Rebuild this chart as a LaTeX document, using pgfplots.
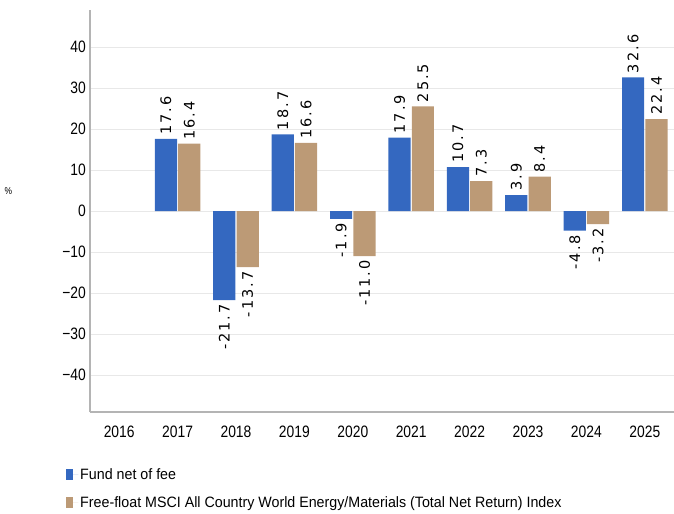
\documentclass[border=0pt]{standalone}
\usepackage{fontspec}
\usepackage{pgfplots}
\pgfplotsset{compat=1.18}
\newfontfamily\tickfont[FakeStretch=0.84]{Liberation Sans}
\newfontfamily\legfont[FakeStretch=0.95]{Liberation Sans}
\newfontfamily\labfont[LetterSpace=14]{DejaVu Sans}
\definecolor{fundblue}{HTML}{3468C0}
\definecolor{idxtan}{HTML}{BC9A76}
\definecolor{gridc}{HTML}{E8E8E8}
\definecolor{axisc}{HTML}{B4B4B4}
\begin{document}
\begin{tikzpicture}
\useasboundingbox (-90bp,-102bp) rectangle (584bp,412bp);
\begin{axis}[
  at={(0,0)}, anchor=south west,
  scale only axis, width=584bp, height=402bp,
  xmin=-0.5, xmax=9.5, ymin=-49, ymax=49,
  axis lines*=left,
  axis line style={draw=axisc, line width=1.2bp},
  ybar, bar width=0.38,
  xtick={0,1,2,3,4,5,6,7,8,9},
  xticklabels={2016,2017,2018,2019,2020,2021,2022,2023,2024,2025},
  ytick={-40,-30,-20,-10,0,10,20,30,40},
  yticklabels={−40,−30,−20,−10,0,10,20,30,40},
  ymajorgrids, grid style={gridc, line width=0.8bp},
  major tick length=0pt,
  tick label style={font=\tickfont\fontsize{16.5bp}{18bp}\selectfont},
  yticklabel style={inner sep=0pt, xshift=-4bp},
  xticklabel style={inner sep=0pt, yshift=-14bp},
  ylabel={\%},
  ylabel style={rotate=-90, at={(axis description cs:-0.14,0.55)}, anchor=center, font=\tickfont\fontsize{10bp}{12bp}\selectfont},
  visualization depends on={rawy \as \rawy},
  nodes near coords={\pgfmathprintnumber[fixed,fixed zerofill,precision=1,assume math mode=true]{\pgfplotspointmeta}},
  nodes near coords style={font=\labfont\fontsize{14.5bp}{16bp}\selectfont, rotate=90, inner sep=4bp, anchor={\ifdim\rawy pt<0pt east\else west\fi}},
  legend style={at={(axis description cs:-0.041,-0.135)}, anchor=north west, draw=none, fill=none, font=\legfont\fontsize{15bp}{17bp}\selectfont, row sep=12bp, inner sep=0pt},
  legend cell align=left,
  legend image code/.code={\fill[#1,draw=none] (0bp,-5.5bp) rectangle (7bp,5.5bp); \path (0bp,0bp) -- (12bp,0bp);},
]
\addplot[fill=fundblue, draw=none, bar shift=-0.2] coordinates {
  (1,17.6) (2,-21.7) (3,18.7) (4,-1.9) (5,17.9) (6,10.7) (7,3.9) (8,-4.8) (9,32.6)};
\addlegendentry{Fund net of fee}
\addplot[fill=idxtan, draw=none, bar shift=0.2] coordinates {
  (1,16.4) (2,-13.7) (3,16.6) (4,-11.0) (5,25.5) (6,7.3) (7,8.4) (8,-3.2) (9,22.4)};
\addlegendentry{Free-float MSCI All Country World Energy/Materials (Total Net Return) Index}
\end{axis}
\end{tikzpicture}
\end{document}
